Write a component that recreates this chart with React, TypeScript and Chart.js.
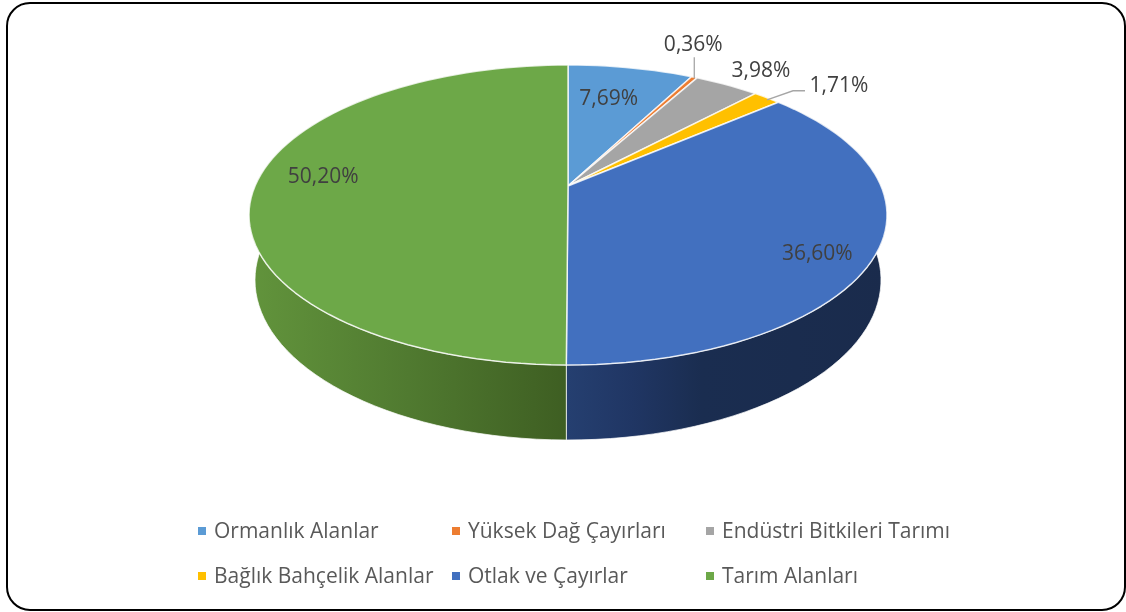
import { useEffect, useRef } from "react";
import { Chart, registerables } from "chart.js";

Chart.register(...registerables);

const categories = [
  "Ormanlık Alanlar",
  "Yüksek Dağ Çayırları",
  "Endüstri Bitkileri Tarımı",
  "Bağlık Bahçelik Alanlar",
  "Otlak ve Çayırlar",
  "Tarım Alanları",
];
const shares = [7.69, 0.36, 3.98, 1.71, 36.6, 50.2];
const valueLabels = ["7,69%", "0,36%", "3,98%", "1,71%", "36,60%", "50,20%"];
const faceColors = ["#5B9BD5", "#ED7D31", "#A5A5A5", "#FFC000", "#4270BF", "#6DA848"];
const wallStops: [number, string][][] = [
  [[0, "#3A6A96"], [1, "#3A6A96"]],
  [[0, "#A85620"], [1, "#A85620"]],
  [[0, "#707070"], [1, "#707070"]],
  [[0, "#B08400"], [1, "#B08400"]],
  [[0, "#253F70"], [0.2, "#203664"], [0.42, "#1A2D50"], [1, "#1A2B4C"]],
  [[0, "#62943C"], [0.5, "#507A30"], [1, "#3E5E22"]],
];
// label offset from the rim midpoint of each slice
const labelOffsets = [[-22, 31], [-1, -32], [34, -14], [72, -12], [-60, 2], [68, -9]];
// leader polylines, relative to the rim midpoint of each slice
const leaders: number[][][] = [[], [[0, 1], [0, -20]], [], [[0, 2], [26, -7], [38, -7]], [], []];

const FONT = '"Open Sans", sans-serif';
const WIDTH_RATIO = 319 / 150; // horizontal radius over the arc radius
const APEX_SHIFT = 29 / 150; // perspective: how far the centre sits behind the ellipse centre
const WALL_DROP = 65;
const WALL_SX = 313 / 319;
const WALL_SY = 160 / 150;

function project(arc: any, theta: number, r = 1, wall = false) {
  const R = arc.outerRadius;
  const D = R * WIDTH_RATIO * Math.sqrt(1 - APEX_SHIFT * APEX_SHIFT);
  const x = r * Math.sin(theta);
  const y = r * Math.cos(theta);
  const den = 1 + APEX_SHIFT * y;
  return {
    x: arc.x + ((wall ? WALL_SX : 1) * D * x) / den,
    y: arc.y + (wall ? WALL_DROP : 0) + ((wall ? WALL_SY : 1) * R * (-y - APEX_SHIFT)) / den,
  };
}

const angles = (arc: any) => [arc.startAngle + Math.PI / 2, arc.endAngle + Math.PI / 2];

const pie3d = {
  id: "pie3d",
  beforeDatasetDraw(chart: any) {
    const { ctx } = chart;
    const arcs = chart.getDatasetMeta(0).data;
    const STEPS = 160;
    ctx.save();
    ctx.lineJoin = "round";
    // walls
    arcs.forEach((arc: any, i: number) => {
      const [a, b] = angles(arc);
      const n = Math.max(2, Math.ceil(((b - a) / (2 * Math.PI)) * STEPS));
      ctx.beginPath();
      for (let k = 0; k <= n; k++) {
        const p = project(arc, a + ((b - a) * k) / n);
        k ? ctx.lineTo(p.x, p.y) : ctx.moveTo(p.x, p.y);
      }
      for (let k = n; k >= 0; k--) {
        const p = project(arc, a + ((b - a) * k) / n, 1, true);
        ctx.lineTo(p.x, p.y);
      }
      ctx.closePath();
      const left = i === 5 ? arc.x - arc.outerRadius * WIDTH_RATIO : arc.x;
      const right = i === 5 ? arc.x : arc.x + arc.outerRadius * WIDTH_RATIO;
      const g = ctx.createLinearGradient(left, 0, right, 0);
      wallStops[i].forEach(([o, c]) => g.addColorStop(o, c));
      ctx.fillStyle = g;
      ctx.fill();
      ctx.strokeStyle = "rgba(255,255,255,0.7)";
      ctx.lineWidth = 1;
      ctx.stroke();
    });
    // top faces
    arcs.forEach((arc: any, i: number) => {
      const [a, b] = angles(arc);
      const n = Math.max(2, Math.ceil(((b - a) / (2 * Math.PI)) * STEPS));
      const apex = project(arc, 0, 0);
      ctx.beginPath();
      ctx.moveTo(apex.x, apex.y);
      for (let k = 0; k <= n; k++) {
        const p = project(arc, a + ((b - a) * k) / n);
        ctx.lineTo(p.x, p.y);
      }
      ctx.closePath();
      ctx.fillStyle = faceColors[i];
      ctx.fill();
      ctx.strokeStyle = "rgba(255,255,255,0.8)";
      ctx.lineWidth = 1.5;
      ctx.stroke();
    });
    ctx.restore();
    return false;
  },
  afterDatasetsDraw(chart: any) {
    const { ctx } = chart;
    const arcs = chart.getDatasetMeta(0).data;
    ctx.save();
    arcs.forEach((arc: any, i: number) => {
      const [a, b] = angles(arc);
      const rim = project(arc, (a + b) / 2);
      if (leaders[i].length) {
        ctx.beginPath();
        leaders[i].forEach(([dx, dy], k) => {
          k ? ctx.lineTo(rim.x + dx, rim.y + dy) : ctx.moveTo(rim.x + dx, rim.y + dy);
        });
        ctx.strokeStyle = "#A6A6A6";
        ctx.lineWidth = 1.3;
        ctx.stroke();
      }
      ctx.font = `21px ${FONT}`;
      ctx.fillStyle = "#404040";
      ctx.textAlign = "center";
      ctx.textBaseline = "middle";
      ctx.fillText(valueLabels[i], rim.x + labelOffsets[i][0], rim.y + labelOffsets[i][1]);
    });
    // legend: three aligned columns, two rows
    const { width } = chart;
    const colStep = 254;
    const colStart = width / 2 - 365;
    ctx.font = `21px ${FONT}`;
    ctx.textAlign = "left";
    ctx.textBaseline = "middle";
    categories.forEach((name, i) => {
      const col = i % 3;
      const row = Math.floor(i / 3);
      const x = colStart + col * colStep;
      const y = 531 + row * 45;
      ctx.fillStyle = faceColors[i];
      ctx.fillRect(x, y - 4, 8, 8);
      ctx.fillStyle = "#595959";
      ctx.fillText(name, x + 16, y + 1);
    });
    ctx.restore();
  },
};

export default function App() {
  const ref = useRef<HTMLCanvasElement>(null);
  useEffect(() => {
    const chart = new Chart(ref.current!, {
      type: "pie",
      data: {
        labels: categories,
        datasets: [{ data: shares, backgroundColor: faceColors, borderWidth: 0, hoverOffset: 0 }],
      },
      options: {
        animation: false,
        responsive: false,
        layout: { padding: { left: 10, right: 0, top: 65, bottom: 247 } },
        plugins: { legend: { display: false }, tooltip: { enabled: false } },
      },
      plugins: [pie3d],
    } as any);
    return () => chart.destroy();
  }, []);
  return (
    <div style={{ position: "absolute", left: 0, top: 0, width: 1126, height: 612, overflow: "hidden", background: "#fff" }}>
      <div
        style={{
          position: "absolute",
          left: 6,
          top: 2,
          width: 1120,
          height: 609,
          boxSizing: "border-box",
          border: "2px solid #000",
          borderRadius: 24,
        }}
      />
      <canvas ref={ref} width={1126} height={612} style={{ position: "absolute", left: 0, top: 0, display: "block" }} />
    </div>
  );
}
